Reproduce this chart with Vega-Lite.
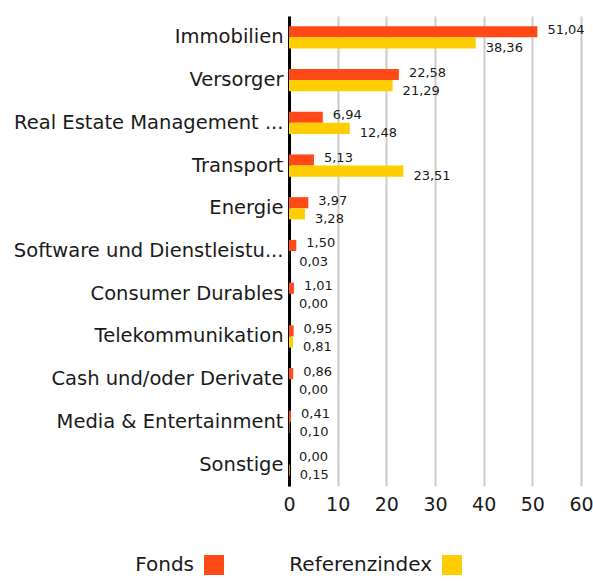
{
  "$schema": "https://vega.github.io/schema/vega-lite/v6.json",
  "width": 292,
  "height": 470,
  "autosize": "none",
  "padding": {"left": 289, "top": 16, "right": 12, "bottom": 95},
  "config": {
    "view": {"stroke": null},
    "font": "DejaVu Sans",
    "locale": {"number": {"decimal": ",", "thousands": ".", "grouping": [3], "currency": ["", " €"]}}
  },
  "data": {
    "values": [
      {"category": "Immobilien", "series": "Fonds", "value": 51.04},
      {"category": "Immobilien", "series": "Referenzindex", "value": 38.36},
      {"category": "Versorger", "series": "Fonds", "value": 22.58},
      {"category": "Versorger", "series": "Referenzindex", "value": 21.29},
      {"category": "Real Estate Management ...", "series": "Fonds", "value": 6.94},
      {"category": "Real Estate Management ...", "series": "Referenzindex", "value": 12.48},
      {"category": "Transport", "series": "Fonds", "value": 5.13},
      {"category": "Transport", "series": "Referenzindex", "value": 23.51},
      {"category": "Energie", "series": "Fonds", "value": 3.97},
      {"category": "Energie", "series": "Referenzindex", "value": 3.28},
      {"category": "Software und Dienstleistu...", "series": "Fonds", "value": 1.50},
      {"category": "Software und Dienstleistu...", "series": "Referenzindex", "value": 0.03},
      {"category": "Consumer Durables", "series": "Fonds", "value": 1.01},
      {"category": "Consumer Durables", "series": "Referenzindex", "value": 0.00},
      {"category": "Telekommunikation", "series": "Fonds", "value": 0.95},
      {"category": "Telekommunikation", "series": "Referenzindex", "value": 0.81},
      {"category": "Cash und/oder Derivate", "series": "Fonds", "value": 0.86},
      {"category": "Cash und/oder Derivate", "series": "Referenzindex", "value": 0.00},
      {"category": "Media & Entertainment", "series": "Fonds", "value": 0.41},
      {"category": "Media & Entertainment", "series": "Referenzindex", "value": 0.10},
      {"category": "Sonstige", "series": "Fonds", "value": 0.00},
      {"category": "Sonstige", "series": "Referenzindex", "value": 0.15}
    ]
  },
  "encoding": {
    "y": {
      "field": "category", "type": "nominal", "sort": null,
      "scale": {"paddingInner": 0.48, "paddingOuter": 0.24},
      "axis": {"title": null, "ticks": false, "labelPadding": 6, "labelFontSize": 19.5, "labelColor": "#1a1a1a", "labelLimit": 300, "domainColor": "#000000", "domainWidth": 3}
    },
    "x": {
      "field": "value", "type": "quantitative",
      "scale": {"domain": [0, 60], "nice": false},
      "axis": {"title": null, "values": [0, 10, 20, 30, 40, 50, 60], "format": "d", "ticks": false, "domain": false, "labelFlush": false, "labelPadding": 9, "labelFontSize": 19, "labelColor": "#1a1a1a", "gridColor": "#cccccc", "gridWidth": 2}
    },
    "yOffset": {"field": "series", "type": "nominal", "sort": ["Fonds", "Referenzindex"]}
  },
  "layer": [
    {
      "mark": {"type": "bar"},
      "encoding": {
        "color": {
          "field": "series", "type": "nominal",
          "scale": {"domain": ["Fonds", "Referenzindex"], "range": ["#FF4A17", "#FFCE00"]},
          "legend": {
            "title": null, "orient": "none", "direction": "horizontal",
            "legendX": -85, "legendY": 539,
            "symbolType": "square", "symbolSize": 400, "symbolStrokeWidth": 0,
            "labelFontSize": 20, "labelColor": "#1a1a1a", "labelAlign": "right", "labelOffset": -30,
            "columnPadding": 65
          }
        }
      }
    },
    {
      "transform": [{"filter": "datum.series === 'Fonds'"}],
      "mark": {"type": "text", "align": "left", "dx": 10, "dy": -2, "fontSize": 13, "color": "#1a1a1a"},
      "encoding": {"text": {"field": "value", "type": "quantitative", "format": ".2f"}}
    },
    {
      "transform": [{"filter": "datum.series === 'Referenzindex'"}],
      "mark": {"type": "text", "align": "left", "dx": 10, "dy": 5, "fontSize": 13, "color": "#1a1a1a"},
      "encoding": {"text": {"field": "value", "type": "quantitative", "format": ".2f"}}
    }
  ]
}
